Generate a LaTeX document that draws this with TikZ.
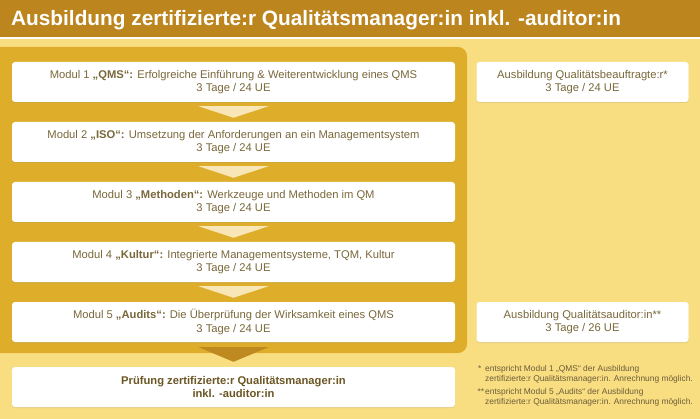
\documentclass[tikz,border=0pt]{standalone}
\usepackage{fontspec}
\setmainfont{Liberation Sans}
\usetikzlibrary{shadows}
\definecolor{headgold}{HTML}{BC851E}
\definecolor{paleback}{HTML}{F9DD81}
\definecolor{panelgold}{HTML}{DEAE2A}
\definecolor{palearrow}{HTML}{F8E6B6}
\definecolor{darkarrow}{HTML}{BE8A1F}
\definecolor{boxtext}{HTML}{7A683A}
\definecolor{examtext}{HTML}{6B5624}
\definecolor{foottext}{HTML}{6B5E3A}
\tikzset{
  modbox/.style={fill=white, rounded corners=3pt, minimum width=443pt, minimum height=40pt,
    align=center, text=boxtext, font=\fontsize{11.2}{13.3}\selectfont,
    drop shadow={opacity=0.18, shadow xshift=0pt, shadow yshift=-1pt}},
  sidebox/.style={modbox, minimum width=212pt},
  footmark/.style={anchor=north west, inner sep=0pt, text=foottext, font=\fontsize{8.4}{9.3}\selectfont},
  footnote/.style={footmark, align=left}
}
\begin{document}
\begin{tikzpicture}[x=1pt, y=-1pt]
\useasboundingbox (0,0) rectangle (700,419);
\fill[paleback] (0,0) rectangle (700,419);
\fill[headgold] (0,0) rectangle (700,37.5);
\fill[white] (0,37.5) rectangle (700,39);
\fill[panelgold, rounded corners=9pt] (-20,47) rectangle (467,353);
\node[anchor=base west, text=white, inner sep=0pt, font=\fontsize{20.8}{24}\bfseries] (T) at (11,26)
  {Ausbildung zertifizierte:r Qualitätsmanager:in inkl. -auditor:in};
\node[modbox] (M_1) at (233.5,82) {Modul 1 \textbf{„QMS“:} Erfolgreiche Einführung \& Weiterentwicklung eines QMS\\3 Tage / 24 UE};
\node[modbox] (M_2) at (233.5,142) {Modul 2 \textbf{„ISO“:} Umsetzung der Anforderungen an ein Managementsystem\\3 Tage / 24 UE};
\node[modbox] (M_3) at (233.5,202) {Modul 3 \textbf{„Methoden“:} Werkzeuge und Methoden im QM\\3 Tage / 24 UE};
\node[modbox] (M_4) at (233.5,262) {Modul 4 \textbf{„Kultur“:} Integrierte Managementsysteme, TQM, Kultur\\3 Tage / 24 UE};
\node[modbox] (M_5) at (233.5,322) {Modul 5 \textbf{„Audits“:} Die Überprüfung der Wirksamkeit eines QMS\\3 Tage / 24 UE};
\node[modbox, text=examtext, font=\fontsize{11.2}{13.3}\bfseries] (P) at (233.5,387) {Prüfung zertifizierte:r Qualitätsmanager:in\\inkl. -auditor:in};
\node[sidebox] (R_1) at (582.5,82) {Ausbildung Qualitätsbeauftragte:r*\\3 Tage / 24 UE};
\node[sidebox] (R_2) at (582.5,322) {Ausbildung Qualitätsauditor:in**\\3 Tage / 26 UE};
\foreach \a/\b in {M_1/M_2, M_2/M_3, M_3/M_4, M_4/M_5}
  \fill[palearrow] ([xshift=-35pt, yshift=-4pt]\a.south) -- ([xshift=35pt, yshift=-4pt]\a.south) -- ([yshift=4pt]\b.north) -- cycle;
\fill[darkarrow] ([xshift=-35pt, yshift=-5pt]M_5.south) -- ([xshift=35pt, yshift=-5pt]M_5.south) -- ([yshift=5pt]P.north) -- cycle;
\node[footmark] (F_1m) at (478,365.5) {*};
\node[footnote] (F_1) at (485,365.5) {entspricht Modul 1 „QMS“ der Ausbildung\\zertifizierte:r Qualitätsmanager:in. Anrechnung möglich.};
\node[footmark] (F_2m) at (477.5,388.5) {**};
\node[footnote] (F_2) at (485,388.5) {entspricht Modul 5 „Audits“ der Ausbildung\\zertifizierte:r Qualitätsmanager:in. Anrechnung möglich.};
\end{tikzpicture}
\end{document}
